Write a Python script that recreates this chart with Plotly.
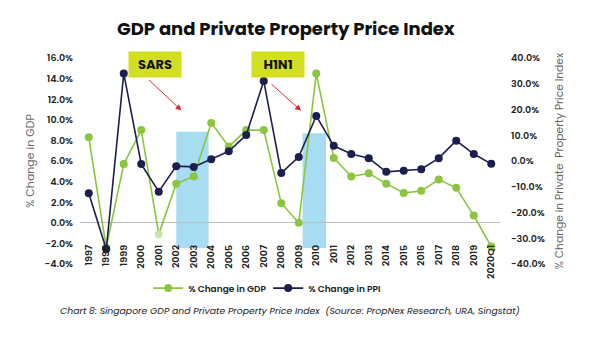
import plotly.graph_objects as go

years = ["1997", "1998", "1999", "2000", "2001", "2002", "2003", "2004", "2005", "2006",
         "2007", "2008", "2009", "2010", "2011", "2012", "2013", "2014", "2015", "2016",
         "2017", "2018", "2019", "2020Q1"]
gdp = [8.3, -2.4, 5.7, 9.0, -1.1, 3.8, 4.5, 9.7, 7.4, 9.0,
       9.0, 1.9, 0.0, 14.5, 6.3, 4.5, 4.8, 3.8, 2.9, 3.1,
       4.2, 3.4, 0.7, -2.3]
ppi = [-12.5, -34.3, 34.0, -1.2, -11.9, -2.0, -2.3, 0.7, 3.8, 10.1,
       31.1, -4.7, 1.6, 17.5, 5.9, 2.7, 1.1, -4.2, -3.8, -3.2,
       1.1, 7.9, 2.7, -1.1]
left_ticks = [-4, -2, 0, 2, 4, 6, 8, 10, 12, 14, 16]
right_ticks = [-40, -30, -20, -10, 0, 10, 20, 30, 40]

GREEN = "#8cc63f"
NAVY = "#1c1f4e"
FONT = "Poppins, Open Sans, sans-serif"

gdp_colors = [GREEN] * len(years)
gdp_colors[years.index("2001")] = "#c8e3a6"

fig = go.Figure()
fig.add_trace(go.Scatter(
    x=years, y=gdp, name="% Change in GDP", mode="lines+markers",
    line=dict(color=GREEN, width=1.6),
    marker=dict(color=gdp_colors, size=8), yaxis="y"))
fig.add_trace(go.Scatter(
    x=years, y=ppi, name="% Change in PPI", mode="lines+markers",
    line=dict(color=NAVY, width=1.6),
    marker=dict(color=NAVY, size=8), yaxis="y2"))

i02, i04, i10 = years.index("2002"), years.index("2004"), years.index("2010")
shapes = [
    dict(type="rect", xref="x", yref="y", x0=i02, x1=i04 - 0.15, y0=-2.45, y1=8.85,
         fillcolor="#a7dcf3", line=dict(width=0), layer="below"),
    dict(type="rect", xref="x", yref="y", x0=i10 - 0.78, x1=i10 + 0.56, y0=-2.45, y1=8.7,
         fillcolor="#a7dcf3", line=dict(width=0), layer="below"),
]

annotations = [
    dict(text="<b>SARS</b>", xref="x", yref="y", x=3.79, y=15.35, showarrow=False,
         bgcolor="#d2df20", width=50, height=23, font=dict(family=FONT, size=13, color="#111")),
    dict(text="<b>H1N1</b>", xref="x", yref="y", x=10.81, y=15.35, showarrow=False,
         bgcolor="#d2df20", width=50, height=23, font=dict(family=FONT, size=13, color="#111")),
    dict(text="", xref="x", yref="y", x=5.3, y=10.9, ax=-34, ay=-32, showarrow=True,
         arrowhead=2, arrowsize=1.2, arrowwidth=1, arrowcolor="#e3262f"),
    dict(text="", xref="x", yref="y", x=12.13, y=10.88, ax=-31, ay=-28, showarrow=True,
         arrowhead=2, arrowsize=1.2, arrowwidth=1, arrowcolor="#e3262f"),
    dict(text="<i>Chart 8: Singapore GDP and Private Property Price Index  (Source: PropNex Research, URA, Singstat)</i>",
         xref="paper", yref="paper", x=0.5, xanchor="center", y=-0.225, yanchor="middle",
         showarrow=False, font=dict(family=FONT, size=9.3, color="#222")),
]

tickfont = dict(family=FONT, size=9.5, color="#222", weight=600)

fig.update_layout(
    width=600, height=361,
    margin=dict(l=72, r=108, t=50, b=105),
    paper_bgcolor="white", plot_bgcolor="white",
    title=dict(text="<b>GDP and Private Property Price Index</b>", x=0.463, xanchor="center",
               xref="container", y=0.942, yref="container", yanchor="middle",
               font=dict(family=FONT, size=18, color="#111")),
    font=dict(family=FONT, color="#222"),
    xaxis=dict(type="category", range=[-0.5, len(years) - 0.5], tickangle=-90,
               showgrid=False, showline=False, ticks="", ticklabelstandoff=-22,
               tickfont=tickfont, automargin=False),
    yaxis=dict(range=[-4, 16], tickvals=left_ticks,
               ticktext=[f"{v:.1f}%" for v in left_ticks],
               showgrid=False, zeroline=True, zerolinecolor="#bfbfbf", zerolinewidth=1,
               tickfont=tickfont, automargin=False, ticks="", ticklabelstandoff=6,
               title=dict(text="% Change in GDP", font=dict(family=FONT, size=11, color="#666"),
                          standoff=7)),
    yaxis2=dict(range=[-40, 40], tickvals=right_ticks,
                ticktext=[f"{v:.1f}%" for v in right_ticks],
                overlaying="y", side="right", showgrid=False, zeroline=False,
                tickfont=tickfont, automargin=False, ticks="", ticklabelstandoff=10,
                title=dict(text="% Change in Private  Property Price Index",
                           font=dict(family=FONT, size=10.7, color="#666"), standoff=10)),
    legend=dict(orientation="h", x=0.448, xanchor="center", y=-0.117, yanchor="middle",
                font=dict(family=FONT, size=9, color="#222", weight=600), itemwidth=30,
                entrywidth=75, entrywidthmode="pixels",
                bgcolor="rgba(0,0,0,0)"),
    shapes=shapes, annotations=annotations,
)

fig.write_html("out.html")
